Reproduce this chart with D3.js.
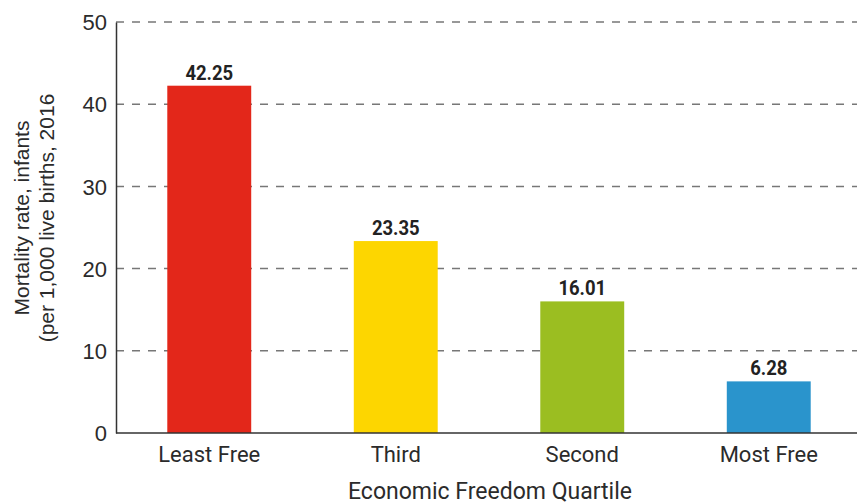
<!DOCTYPE html>
<html>
<head>
<meta charset="utf-8">
<script src="https://cdn.jsdelivr.net/npm/d3@7"></script>
<style>
  body { margin: 0; background: #fff; }
  svg { display: block; }
  .ytick text { font-family: "Liberation Sans", Arial, sans-serif; font-size: 22px; fill: #2b2b2b; }
  .xtick text { font-family: Roboto, sans-serif; font-size: 22px; fill: #2b2b2b; }
  .ytitle { font-family: "Liberation Sans", Arial, sans-serif; font-size: 21px; fill: #2b2b2b; }
  .xtitle { font-family: Roboto, sans-serif; font-size: 23px; fill: #2b2b2b; }
  .value { font-family: Roboto, sans-serif; font-weight: bold; font-size: 21px; fill: #222; }
</style>
</head>
<body>
<svg class="chart"></svg>
<script>
const quartiles = ['Least Free', 'Third', 'Second', 'Most Free']
const mortality = [42.25, 23.35, 16.01, 6.28]
const barColors = ['#e3271a', '#fdd600', '#9bbe21', '#2a94cc']
const yTicks = [0, 10, 20, 30, 40, 50]

const chartWidth = 857
const chartHeight = 504
const plotLeft = 116
const plotTop = 22
const plotBottom = 433

const chart = d3.select('.chart')
  .attr('width', chartWidth)
  .attr('height', chartHeight)

const xScale = d3.scaleBand()
  .domain(quartiles)
  .range([plotLeft, 862])
  .paddingInner(0.55)
  .paddingOuter(0.275)

const yScale = d3.scaleLinear()
  .domain([0, 50])
  .range([plotBottom, plotTop])

// dashed grid
chart.append('g').attr('class', 'grid')
  .selectAll('line')
  .data(yTicks.filter(t => t > 0))
  .enter()
  .append('line')
  .attr('x1', plotLeft)
  .attr('x2', chartWidth)
  .attr('y1', t => yScale(t))
  .attr('y2', t => yScale(t))
  .attr('stroke', '#777')
  .attr('stroke-width', 1.5)
  .attr('stroke-dasharray', '8,8')

// bars
chart.append('g').attr('class', 'bars')
  .selectAll('rect')
  .data(quartiles)
  .enter()
  .append('rect')
  .attr('x', q => xScale(q))
  .attr('width', xScale.bandwidth())
  .attr('y', (q, i) => yScale(mortality[i]))
  .attr('height', (q, i) => plotBottom - yScale(mortality[i]))
  .attr('fill', (q, i) => barColors[i])

// value labels, squeezed to look condensed
chart.append('g').attr('class', 'labels')
  .selectAll('text')
  .data(quartiles)
  .enter()
  .append('text')
  .attr('class', 'value')
  .attr('transform', (q, i) => `translate(${xScale(q) + xScale.bandwidth() / 2},${yScale(mortality[i]) - 6}) scale(0.88,1)`)
  .attr('text-anchor', 'middle')
  .text((q, i) => mortality[i].toFixed(2))

// axes
const yAxis = chart.append('g').attr('class', 'ytick')
  .attr('transform', `translate(${plotLeft},0)`)
  .call(d3.axisLeft(yScale).tickValues(yTicks).tickSize(0).tickPadding(9))
yAxis.select('.domain').attr('stroke', '#333').attr('stroke-width', 1.5)
yAxis.selectAll('text').attr('dy', '0.35em')

const xAxis = chart.append('g').attr('class', 'xtick')
  .attr('transform', `translate(0,${plotBottom})`)
  .call(d3.axisBottom(xScale).tickSize(0).tickPadding(13))
xAxis.select('.domain').attr('d', `M${plotLeft},0H${chartWidth}`).attr('stroke', '#333').attr('stroke-width', 1.5)
xAxis.selectAll('text').attr('dy', '0.71em')

chart.append('text')
  .attr('class', 'xtitle')
  .attr('x', 490)
  .attr('y', 499)
  .attr('text-anchor', 'middle')
  .text('Economic Freedom Quartile')

const yTitle = chart.append('text')
  .attr('class', 'ytitle')
  .attr('transform', 'translate(0,218) rotate(-90)')
  .attr('text-anchor', 'middle')
yTitle.append('tspan').attr('x', 0).attr('y', 29).text('Mortality rate, infants')
yTitle.append('tspan').attr('x', 0).attr('y', 54).text('(per 1,000 live births, 2016')
</script>
</body>
</html>
